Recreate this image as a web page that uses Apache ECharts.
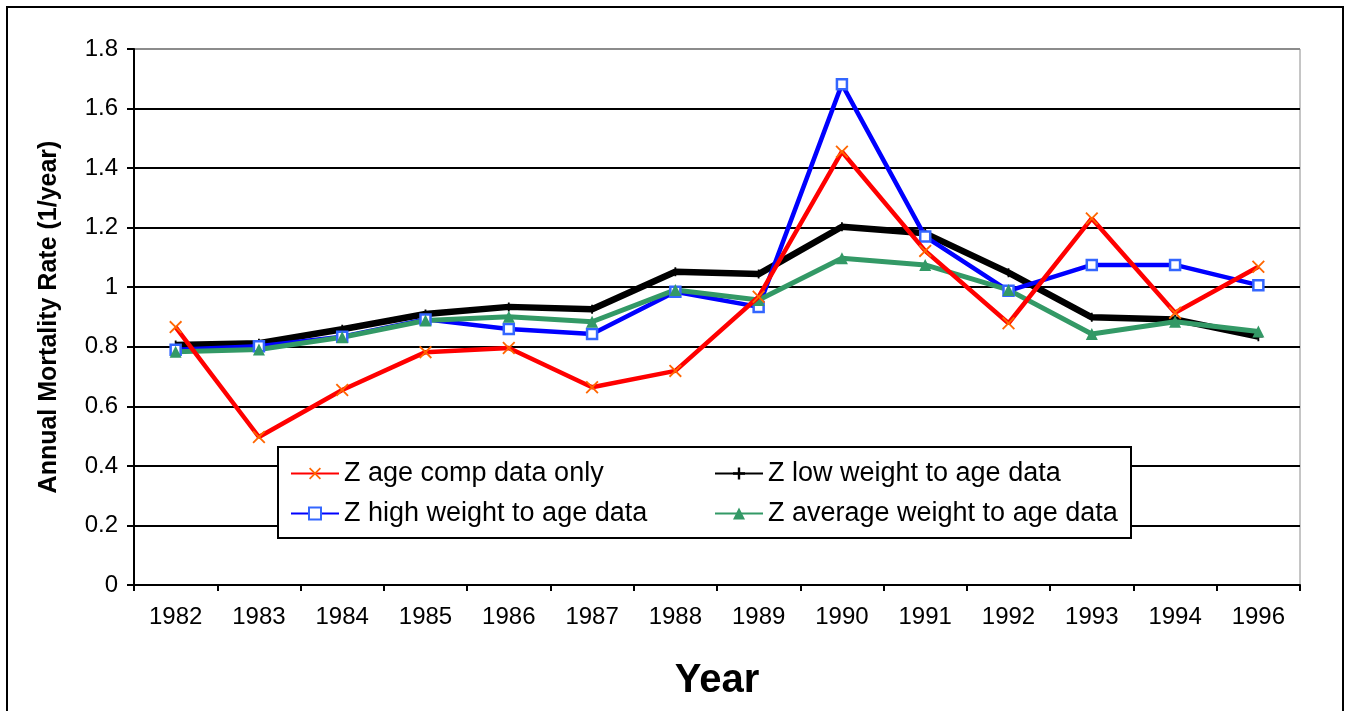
<!DOCTYPE html>
<html>
<head>
<meta charset="utf-8">
<script src="https://cdn.jsdelivr.net/npm/echarts@6/dist/echarts.min.js"></script>
<style>
  html, body { margin: 0; padding: 0; background: #fff; }
  #chart { width: 1345px; height: 711px; }
</style>
</head>
<body>
<div id="chart"></div>
<script>
// Annual mortality rate estimates by year
const years = ['1982','1983','1984','1985','1986','1987','1988','1989','1990','1991','1992','1993','1994','1996'];
const ageCompOnly  = [0.866, 0.497, 0.655, 0.782, 0.796, 0.664, 0.719, 0.968, 1.455, 1.122, 0.879, 1.231, 0.914, 1.069];
const lowWeight    = [0.806, 0.812, 0.859, 0.910, 0.934, 0.926, 1.052, 1.044, 1.203, 1.181, 1.049, 0.899, 0.892, 0.834];
const highWeight   = [0.790, 0.802, 0.834, 0.892, 0.860, 0.843, 0.985, 0.934, 1.682, 1.170, 0.988, 1.075, 1.075, 1.007];
const avgWeight    = [0.783, 0.791, 0.832, 0.888, 0.901, 0.884, 0.991, 0.957, 1.097, 1.075, 0.991, 0.843, 0.884, 0.851];
const seriesNames  = ['Z age comp data only', 'Z low weight to age data', 'Z high weight to age data', 'Z average weight to age data'];

const FONT = '"Liberation Sans", Arial, sans-serif';
const crossPath = 'path://M0,1L1,0L5,4L9,0L10,1L6,5L10,9L9,10L5,6L1,10L0,9L4,5Z';
const plusPath  = 'path://M4,0L6,0L6,4L10,4L10,6L6,6L6,10L4,10L4,6L0,6L0,4L4,4Z';

const chart = echarts.init(document.getElementById('chart'), null, { renderer: 'canvas' });

const legendText = { fontFamily: FONT, fontSize: 27, color: '#000' };

chart.setOption({
  animation: false,
  backgroundColor: '#fff',
  grid: {
    left: 134, right: 45, top: 49, bottom: 126,
    outerBoundsMode: 'none',
    containLabel: false,
    show: true, borderColor: '#8c8c8c', borderWidth: 1, backgroundColor: 'transparent'
  },
  graphic: [
    { type: 'rect', shape: { x: 7, y: 7, width: 1336, height: 720 },
      style: { fill: 'none', stroke: '#000', lineWidth: 2 }, z: 0 },
    { type: 'rect', shape: { x: 278, y: 447, width: 853, height: 91 },
      style: { fill: '#fff', stroke: '#000', lineWidth: 2 }, z: 5 }
  ],
  legend: [
    {
      orient: 'vertical', left: 285, top: 455, itemGap: 13,
      itemWidth: 48, itemHeight: 15, itemStyle: {}, textStyle: legendText, z: 10,
      data: [seriesNames[0], seriesNames[2]]
    },
    {
      orient: 'vertical', left: 709, top: 455, itemGap: 13,
      itemWidth: 48, itemHeight: 15, textStyle: legendText, z: 10,
      data: [seriesNames[1], seriesNames[3]]
    }
  ],
  xAxis: {
    type: 'category',
    data: years,
    boundaryGap: true,
    name: 'Year',
    nameLocation: 'middle',
    nameGap: 76,
    nameTextStyle: { fontFamily: FONT, fontSize: 40, fontWeight: 'bold', color: '#000' },
    axisLine: { lineStyle: { color: '#000', width: 2 } },
    axisTick: { show: true, length: 6, lineStyle: { color: '#000', width: 2 } },
    axisLabel: { fontFamily: FONT, fontSize: 24, color: '#000', margin: 20 },
    splitLine: { show: false }
  },
  yAxis: {
    type: 'value',
    min: 0, max: 1.8, interval: 0.2,
    name: 'Annual Mortality Rate (1/year)',
    nameLocation: 'middle',
    nameGap: 72,
    nameRotate: 90,
    nameTextStyle: { fontFamily: FONT, fontSize: 25, fontWeight: 'bold', color: '#000' },
    axisLine: { show: true, lineStyle: { color: '#000', width: 2 } },
    axisTick: { show: true, length: 7, lineStyle: { color: '#000', width: 2 } },
    axisLabel: { fontFamily: FONT, fontSize: 24, color: '#000', margin: 16 },
    splitLine: {
      show: true,
      lineStyle: {
        color: ['#000','#000','#000','#000','#000','#000','#000','#000','#000','#8c8c8c'],
        width: 2
      }
    }
  },
  series: [
    {
      name: seriesNames[0], type: 'line', data: ageCompOnly, z: 4,
      symbol: crossPath, symbolSize: 13,
      lineStyle: { color: '#ff0000', width: 4.5 },
      itemStyle: { color: '#ff6600' }
    },
    {
      name: seriesNames[1], type: 'line', data: lowWeight, z: 2,
      symbol: plusPath, symbolSize: 9,
      lineStyle: { color: '#000', width: 6.5 },
      itemStyle: { color: '#000' }
    },
    {
      name: seriesNames[2], type: 'line', data: highWeight, z: 3,
      symbol: 'rect', symbolSize: 10,
      lineStyle: { color: '#0000ff', width: 4.5 },
      itemStyle: { color: '#ffffff', borderColor: '#3366ff', borderWidth: 2.5 }
    },
    {
      name: seriesNames[3], type: 'line', data: avgWeight, z: 3,
      symbol: 'triangle', symbolSize: 12,
      lineStyle: { color: '#339966', width: 5 },
      itemStyle: { color: '#339966' }
    }
  ]
});
</script>
</body>
</html>
